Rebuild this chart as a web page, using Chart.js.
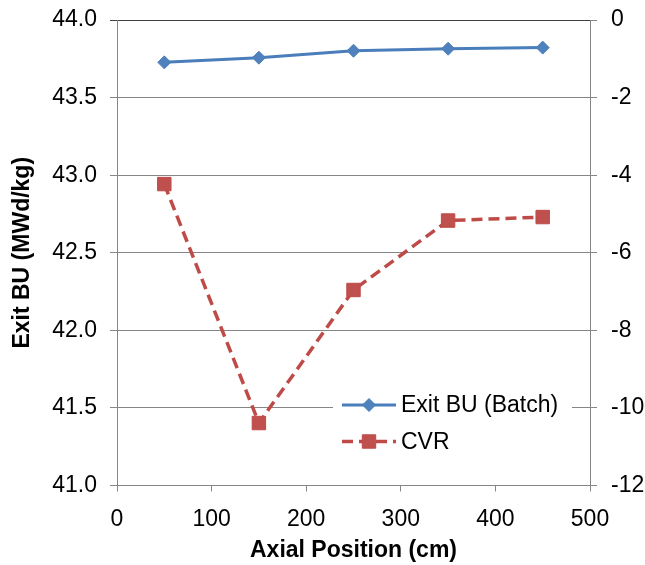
<!DOCTYPE html>
<html>
<head>
<meta charset="utf-8">
<script src="https://cdn.jsdelivr.net/npm/chart.js@4/dist/chart.umd.min.js"></script>
<style>
  html, body { margin: 0; padding: 0; background: #fff; }
  #wrap { width: 645px; height: 565px; }
</style>
</head>
<body>
<div id="wrap"><canvas id="c" width="645" height="565"></canvas></div>
<script>
// ---- data ----
const axialPositions = [50, 150, 250, 350, 450];
const exitBU = [43.727, 43.757, 43.802, 43.815, 43.822];
const cvr = [-4.23, -10.39, -6.96, -5.17, -5.08];
const seriesNames = ['Exit BU (Batch)', 'CVR'];
const xTitle = 'Axial Position (cm)';
const yTitle = 'Exit BU (MWd/kg)';

const FONT = '"Liberation Sans", Arial, sans-serif';
const AXIS_GRAY = '#868686';
const BLUE_LINE = '#4A7EBB', BLUE_FILL = '#4F81BD';
const RED_LINE = '#BE4B48', RED_FILL = '#C0504D';

function fixBox(size, isHorizontal) {
  return function (scale) {
    if (isHorizontal) scale.height = size; else scale.width = size;
    scale.paddingTop = 0; scale.paddingBottom = 0;
    scale.paddingLeft = 0; scale.paddingRight = 0;
  };
}

const legendPlugin = {
  id: 'insideLegend',
  afterDraw(chart) {
    const ctx = chart.ctx;
    ctx.save();
    ctx.fillStyle = '#fff';
    ctx.fillRect(333, 389, 239, 68);
    const rows = [405, 441.5];
    const sets = chart.data.datasets;
    sets.forEach((ds, i) => {
      const y = rows[i];
      ctx.save();
      ctx.strokeStyle = ds.borderColor;
      ctx.lineWidth = ds.borderWidth;
      ctx.setLineDash(ds.borderDash || []);
      ctx.beginPath();
      ctx.moveTo(342, y);
      ctx.lineTo(396, y);
      ctx.stroke();
      ctx.restore();
      ctx.save();
      ctx.fillStyle = ds.pointBackgroundColor;
      ctx.strokeStyle = ds.pointBorderColor;
      ctx.lineWidth = ds.pointBorderWidth;
      Chart.helpers.drawPoint(ctx, {
        pointStyle: ds.pointStyle, radius: ds.pointRadius,
        borderWidth: ds.pointBorderWidth, rotation: 0
      }, 369, y);
      ctx.restore();
      ctx.fillStyle = '#000';
      ctx.font = '23px ' + FONT;
      ctx.textAlign = 'left';
      ctx.textBaseline = 'middle';
      ctx.fillText(ds.label, 401, y + 1);
    });
    ctx.restore();
  }
};

new Chart(document.getElementById('c'), {
  type: 'line',
  data: {
    datasets: [
      {
        label: seriesNames[0],
        data: axialPositions.map((x, i) => ({ x: x, y: exitBU[i] })),
        yAxisID: 'y',
        borderColor: BLUE_LINE,
        borderWidth: 3,
        pointStyle: 'rectRot',
        pointRadius: 6.5,
        pointBackgroundColor: BLUE_FILL,
        pointBorderColor: BLUE_LINE,
        pointBorderWidth: 1,
        tension: 0
      },
      {
        label: seriesNames[1],
        data: axialPositions.map((x, i) => ({ x: x, y: cvr[i] })),
        yAxisID: 'y2',
        borderColor: RED_LINE,
        borderWidth: 3.5,
        borderDash: [11, 6],
        pointStyle: 'rect',
        pointRadius: 9.5,
        pointBackgroundColor: RED_FILL,
        pointBorderColor: RED_LINE,
        pointBorderWidth: 1,
        tension: 0
      }
    ]
  },
  options: {
    responsive: false,
    animation: false,
    devicePixelRatio: 1,
    layout: { padding: { top: 20, left: 0, right: 0, bottom: 0 } },
    plugins: {
      legend: { display: false },
      tooltip: { enabled: false }
    },
    scales: {
      x: {
        type: 'linear',
        position: 'bottom',
        min: 0, max: 500,
        ticks: { stepSize: 100, color: '#000', font: { family: FONT, size: 23 }, padding: 14, maxRotation: 0 },
        grid: { drawOnChartArea: false, drawTicks: true, tickLength: 6, color: AXIS_GRAY, lineWidth: 1 },
        border: { display: true, color: AXIS_GRAY, width: 1 },
        title: { display: true, text: xTitle, color: '#000', font: { family: FONT, size: 23, weight: 'bold' }, padding: { top: 0, bottom: 1 } },
        afterFit: fixBox(79.5, true)
      },
      y: {
        type: 'linear',
        position: 'left',
        min: 41, max: 44,
        ticks: { stepSize: 0.5, color: '#000', font: { family: FONT, size: 23 }, padding: 13,
                 callback: v => Number(v).toFixed(1) },
        grid: { drawOnChartArea: true, tickLength: 7, lineWidth: 1,
                color: ctx => (ctx.tick && ctx.tick.value === 44) ? '#404040' : AXIS_GRAY },
        border: { display: true, color: AXIS_GRAY, width: 1 },
        title: { display: true, text: yTitle, color: '#000', font: { family: FONT, size: 23, weight: 'bold' }, padding: { top: 9, bottom: 0 } },
        afterFit: fixBox(117, false)
      },
      y2: {
        type: 'linear',
        position: 'right',
        min: -12, max: 0,
        ticks: { stepSize: 2, color: '#000', font: { family: FONT, size: 23 }, padding: 14 },
        grid: { drawOnChartArea: false, tickLength: 7, color: AXIS_GRAY, lineWidth: 1 },
        border: { display: true, color: AXIS_GRAY, width: 1 },
        afterFit: fixBox(55, false)
      }
    }
  },
  plugins: [legendPlugin]
});
</script>
</body>
</html>
